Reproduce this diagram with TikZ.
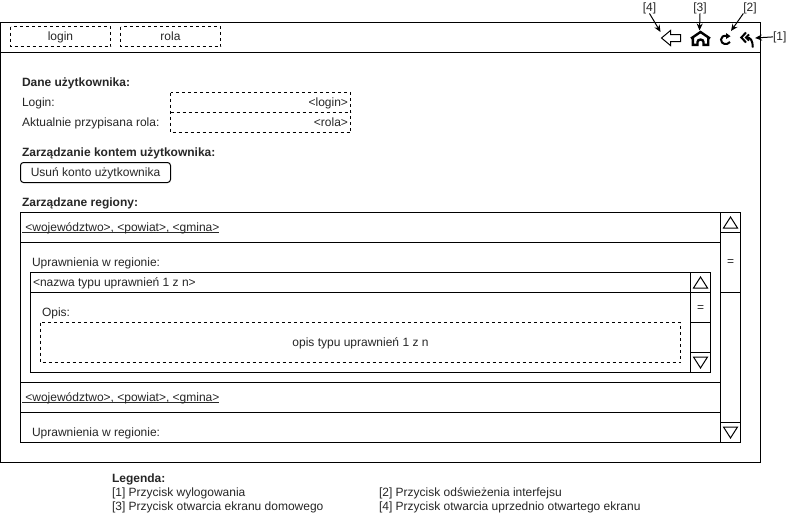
\documentclass[tikz,border=0pt]{standalone}
\usepackage{fontspec}
\setmainfont{Liberation Sans}
\usetikzlibrary{arrows.meta}
\tikzset{
  wire/.style={draw=black,line width=1pt},
  dashbox/.style={draw=black,line width=0.9pt,dash pattern=on 3pt off 3pt},
  txt/.style={inner sep=0pt,outer sep=0pt,anchor=base west,font=\fontsize{12}{14}\selectfont,text=black!85},
  txtb/.style={txt,font=\fontsize{12}{14}\selectfont\bfseries},
  txtc/.style={txt,anchor=base},
  txtr/.style={txt,anchor=base east},
  callout/.style={draw=black,line width=1pt,-{Stealth[length=7pt,width=6pt]}},
  tri/.style={draw=black,line width=1pt,fill=white,line join=miter},
  icon/.style={draw=black,line width=2pt,line join=miter},
}
\newcommand{\ulregion}{\underline{\smash{\ <województwo>, <powiat>, <gmina>}}}
\begin{document}
\begin{tikzpicture}[x=1pt,y=-1pt]
\useasboundingbox (0,0) rectangle (791,522);
% outer frame
\draw[wire] (0.5,22.5) rectangle (760.5,462.5);
\draw[wire] (0.5,52.5) -- (760.5,52.5);
% header boxes
\draw[dashbox] (10.5,26.5) rectangle (110.5,46.5);
\node[txtc] (hlogin) at (60.5,40) {login};
\draw[dashbox] (120.5,26.5) rectangle (220.5,46.5);
\node[txtc] (hrola) at (170.5,40) {rola};
% user data
\node[txtb] (t1) at (22,86) {Dane użytkownika:};
\node[txt] (t2) at (22,106) {Login:};
\node[txt] (t3) at (22,126) {Aktualnie przypisana rola:};
\draw[dashbox] (170.5,92.5) rectangle (350.5,132.5);
\draw[dashbox] (170.5,112.5) -- (350.5,112.5);
\node[txtr] (v1) at (348,106) {<login>};
\node[txtr] (v2) at (348,126) {<rola>};
\node[txtb] (t4) at (22,156) {Zarządzanie kontem użytkownika:};
\draw[wire,rounded corners=3pt] (20.5,162.5) rectangle (170.5,182.5);
\node[txtc] (btn) at (95.5,176) {Usuń konto użytkownika};
\node[txtb] (t5) at (22,206) {Zarządzane regiony:};
% regions
\draw[wire] (20.5,212.5) rectangle (720.5,442.5);
\draw[wire] (20.5,242.5) -- (720.5,242.5);
\draw[wire] (20.5,382.5) -- (720.5,382.5);
\draw[wire] (20.5,412.5) -- (720.5,412.5);
\node[txt] (r1) at (22,231) {\ulregion};
\node[txt] (u1) at (32,266) {Uprawnienia w regionie:};
\node[txt] (r2) at (22,401) {\ulregion};
\node[txt] (u2) at (32,436) {Uprawnienia w regionie:};
% outer scrollbar
\draw[wire] (720.5,212.5) rectangle (740.5,442.5);
\draw[wire] (720.5,232.5) -- (740.5,232.5);
\draw[wire] (720.5,292.5) -- (740.5,292.5);
\draw[wire] (720.5,422.5) -- (740.5,422.5);
\draw[tri] (723.5,228) -- (737.5,228) -- (730.5,217) -- cycle;
\draw[tri] (723.5,427) -- (737.5,427) -- (730.5,438) -- cycle;
\node[txtc] (eq1) at (730.5,265) {=};
% nested
\draw[wire] (30.5,272.5) rectangle (710.5,372.5);
\draw[wire] (30.5,292.5) -- (710.5,292.5);
\node[txt] (n1) at (33,286) {<nazwa typu uprawnień 1 z n>};
\node[txt] (o1) at (42,316) {Opis:};
\draw[dashbox] (40.5,322.5) rectangle (680.5,362.5);
\node[txtc] (o2) at (360.5,346) {opis typu uprawnień 1 z n};
\draw[wire] (690.5,272.5) -- (690.5,372.5);
\draw[wire] (690.5,322.5) -- (710.5,322.5);
\draw[wire] (690.5,352.5) -- (710.5,352.5);
\draw[tri] (693.5,288) -- (707.5,288) -- (700.5,277) -- cycle;
\draw[tri] (693.5,357) -- (707.5,357) -- (700.5,368) -- cycle;
\node[txtc] (eq2) at (700.5,311) {=};
% back icon
\draw[wire,line join=miter] (661.5,38) -- (670.5,30.5) -- (670.5,34.5) -- (680.5,34.5) -- (680.5,41.5) -- (670.5,41.5) -- (670.5,45.5) -- cycle;
% home icon
\draw[icon,line width=2.4pt] (691,38.5) -- (700.5,32) -- (710,38.5);
\draw[icon,line width=2.4pt] (692.8,37) -- (692.8,44.8) -- (697.5,44.8) -- (697.5,42) .. controls (697.5,38.8) and (703.5,38.8) .. (703.5,42) -- (703.5,44.8) -- (708.2,44.8) -- (708.2,37);
% refresh icon
\draw[icon] (727,36) .. controls (723.5,35) and (721,37) .. (721,39.5) .. controls (721,44.5) and (727,45.5) .. (730,42);
\fill[black] (726,33) -- (730.5,36.2) -- (726,39) -- cycle;
% logout icon
\draw[icon] (746,32.5) -- (741.3,37.5) -- (746,42.5);
\draw[icon] (749,34.5) -- (746,37.5) -- (749,40.5);
\draw[icon] (746,37.5) .. controls (750.5,37) and (752.8,40.5) .. (752.8,47.5);
% callouts
\coordinate (ic4) at (660.5,32);
\coordinate (ic3) at (699.5,30.5);
\coordinate (ic2) at (731,31);
\coordinate (ic1) at (755,38);
\node[txtc] (l4) at (649.5,11) {[4]};
\node[txtc] (l3) at (700,11) {[3]};
\node[txtc] (l2) at (750,11) {[2]};
\node[txt] (l1) at (773,40) {[1]};
\draw[callout] (l4.south) -- (ic4);
\draw[callout] (l3.south) -- (ic3);
\draw[callout] (l2.south west) -- (ic2);
\draw[callout] (l1.west) -- (ic1);
% legend
\node[txtb] (lg) at (112,482) {Legenda:};
\node[txt] (lg1) at (112,496) {[1] Przycisk wylogowania};
\node[txt] (lg2) at (379,496) {[2] Przycisk odświeżenia interfejsu};
\node[txt] (lg3) at (112,510) {[3] Przycisk otwarcia ekranu domowego};
\node[txt] (lg4) at (379,510) {[4] Przycisk otwarcia uprzednio otwartego ekranu};
\end{tikzpicture}
\end{document}
